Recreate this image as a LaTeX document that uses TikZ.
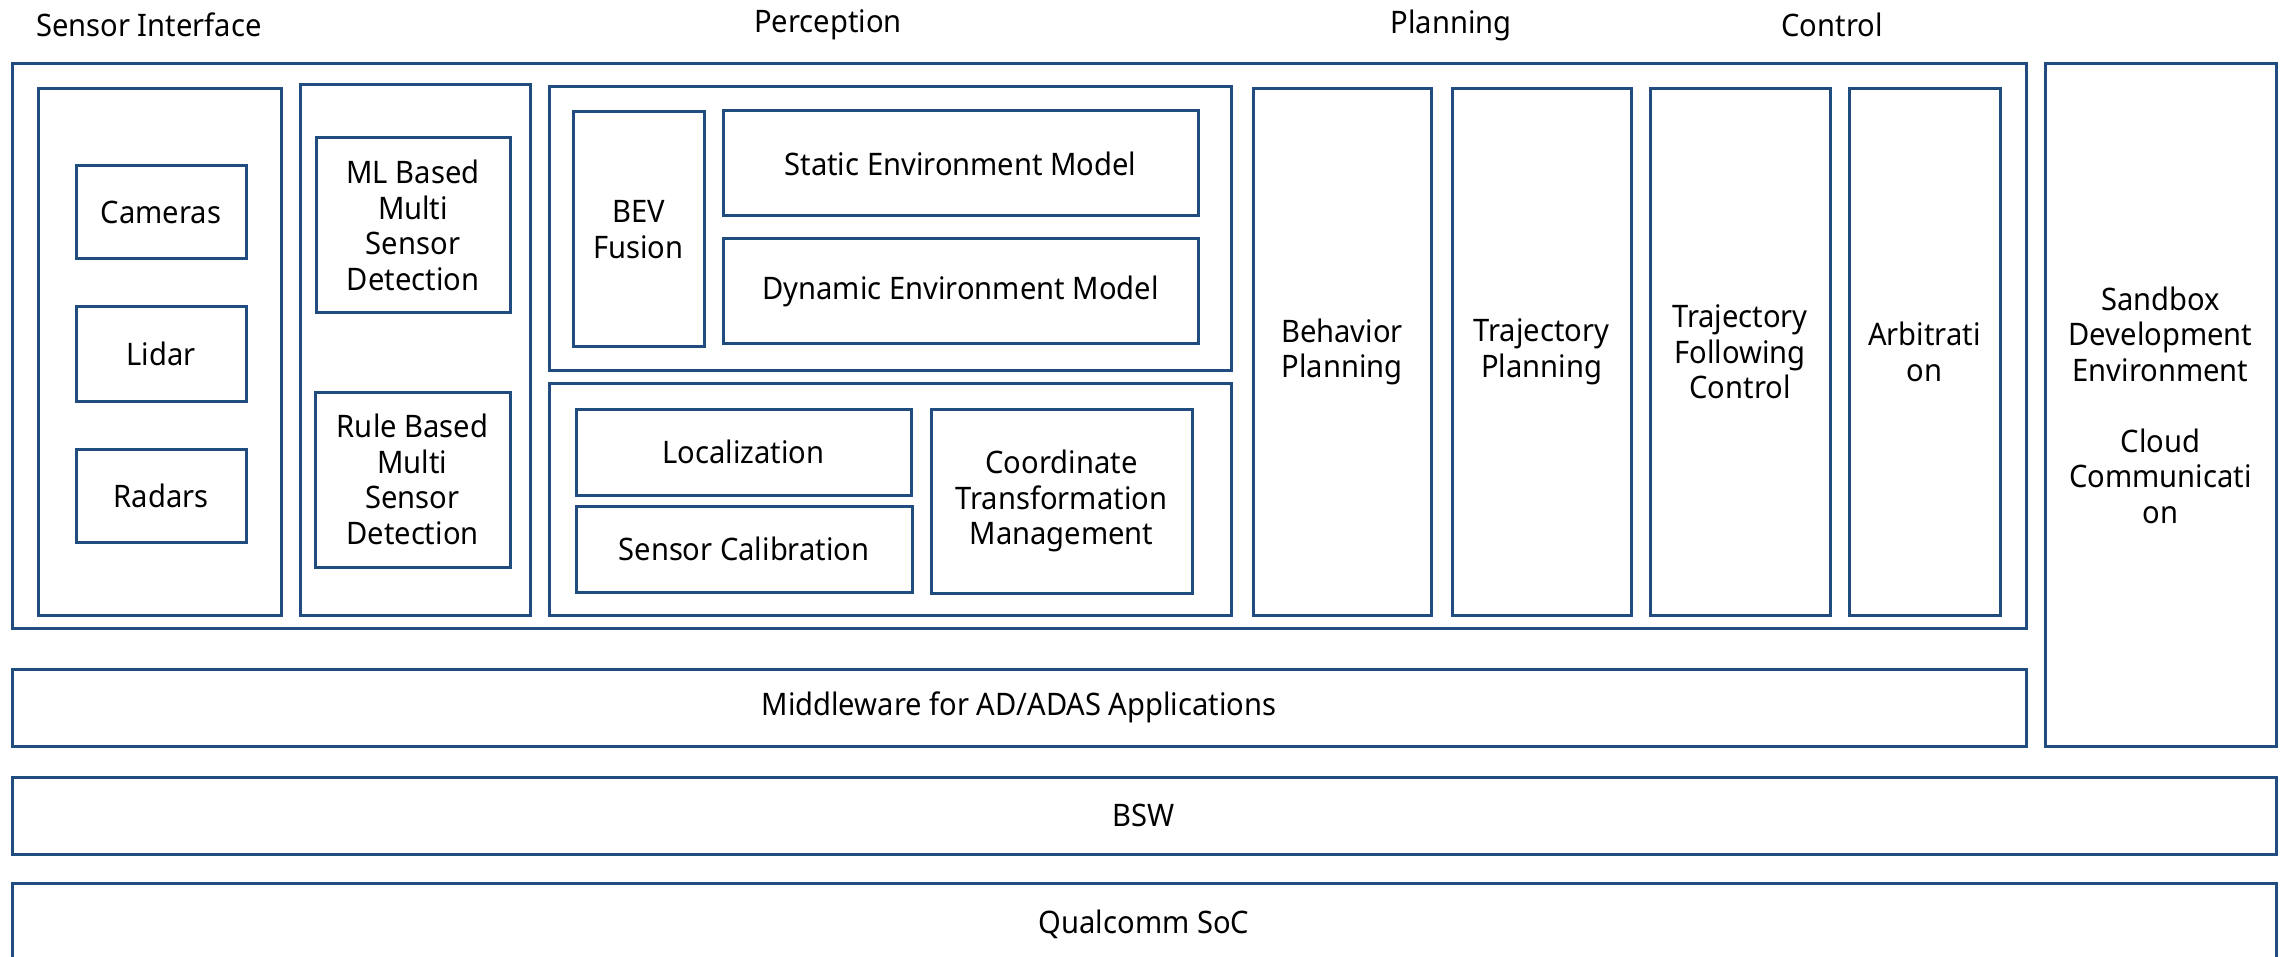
\documentclass[tikz,border=0pt]{standalone}
\usepackage{fontspec}
\setmainfont{Noto Sans}[FakeStretch=0.94]
\definecolor{boxblue}{RGB}{33,76,128}
\tikzset{
  box/.style={draw=boxblue, line width=3pt, inner sep=0pt, outer sep=0pt, align=center,
    font=\fontsize{31}{35.5}\selectfont, text=black},
  head/.style={inner sep=0pt, font=\fontsize{31}{35.5}\selectfont, text=black}
}
\newcommand\blk[6]{\node[box, minimum width={(#4-#2)*1pt}, minimum height={(#5-#3)*1pt}] (#1) at ({(#2+#4)/2},{(#3+#5)/2}) {#6};}
\begin{document}
\begin{tikzpicture}[x=1pt,y=-1pt]
\useasboundingbox[fill=white] (0,0) rectangle (2285,957);
% headings
\node[head, anchor=west] (hsens) at (36,25) {Sensor Interface};
\node[head] (hperc) at (828,25) {Perception};
\node[head] (hplan) at (1451,25) {Planning};
\node[head] (hctrl) at (1832,25) {Control};
% main frame
\blk{outer}{12}{64}{2026}{628}{}
% sensor interface
\blk{sensor}{38}{89}{281}{615}{}
\blk{cam}{76}{166}{246}{259}{Cameras}
\blk{lidar}{76}{307}{246}{401}{Lidar}
\blk{radar}{76}{449}{246}{542}{Radars}
% detection
\blk{det}{300}{85}{530}{615}{}
\blk{ml}{316}{138}{510}{313}{ML Based\\Multi\\Sensor\\Detection}
\blk{rule}{315}{392}{510}{567}{Rule Based\\Multi\\Sensor\\Detection}
% perception
\blk{percu}{549}{87}{1231}{370}{}
\blk{bev}{573}{112}{704}{347}{BEV\\Fusion}
\blk{stat}{723}{111}{1198}{216}{Static Environment Model}
\blk{dyn}{723}{239}{1198}{344}{Dynamic Environment Model}
\blk{percl}{549}{383}{1231}{615}{}
\blk{loc}{576}{409}{911}{495}{Localization}
\blk{cal}{576}{506}{912}{592}{Sensor Calibration}
\blk{coord}{931}{409}{1192}{593}{Coordinate\\Transformation\\Management}
% planning / control
\blk{beh}{1253}{89}{1431}{615}{Behavior\\Planning}
\blk{tplan}{1452}{89}{1631}{615}{Trajectory\\Planning}
\blk{tfol}{1650}{89}{1830}{615}{Trajectory\\Following\\Control}
\blk{arb}{1849}{89}{2000}{615}{Arbitrati\\on}
% right column
\blk{sand}{2045}{64}{2276}{746}{Sandbox\\Development\\Environment\\[35.5pt]Cloud\\Communicati\\on}
% layers
\blk{mw}{12}{669}{2026}{746}{Middleware for AD/ADAS Applications}
\blk{bsw}{12}{777}{2276}{854}{BSW}
\blk{soc}{12}{883}{2276}{966}{Qualcomm SoC}
\end{tikzpicture}
\end{document}
